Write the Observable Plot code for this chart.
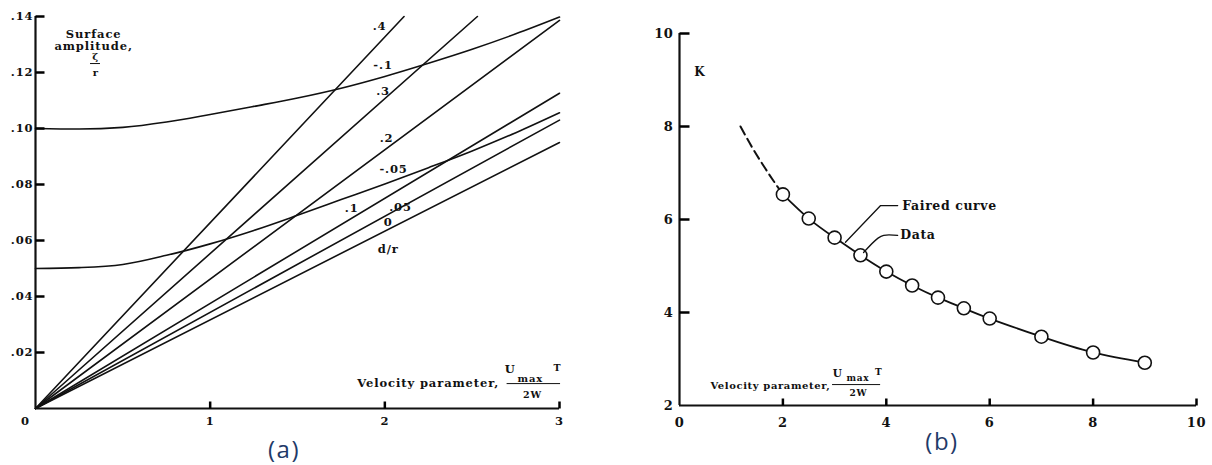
<!DOCTYPE html>
<html><head><meta charset="utf-8">
<script src="https://cdn.jsdelivr.net/npm/d3@7"></script>
<script src="https://cdn.jsdelivr.net/npm/@observablehq/plot@0.6"></script>
<style>
body{margin:0;background:#fff;}
#wrap{position:relative;width:1212px;height:465px;overflow:hidden;background:#fff;}
#a{position:absolute;left:0;top:0;}
#b{position:absolute;left:610px;top:0;}
.cap{position:absolute;font-family:"Open Sans",sans-serif;font-size:24px;color:#1f3a68;transform:translate(-50%,-50%);letter-spacing:1.5px;line-height:1.1;}
#a svg text{letter-spacing:0.9px;}
#b svg text{letter-spacing:0.6px;}
</style></head><body>
<div id="wrap"><div id="a"></div><div id="b"></div>
<div class="cap" style="left:284px;top:449px">(a)</div>
<div class="cap" style="left:942px;top:441px">(b)</div>
</div>
<script>
// ---------- Panel (a) data ----------
const drStraight = [".4", ".3", ".2", ".1", ".05", "0"];
const straightEndX = [2.11, 2.53, 3.0, 3.0, 3.0, 3.0];
const straightEndY = [0.140, 0.140, 0.1386, 0.1126, 0.103, 0.095];
const curveX = [0, 0.25, 0.5, 0.75, 1.0, 1.25, 1.5, 1.75, 2.0, 2.25, 2.5, 2.75, 3.0];
const curveNeg10 = [0.1000, 0.0998, 0.1004, 0.1023, 0.1050, 0.1079, 0.1109, 0.1144, 0.1186, 0.1233, 0.1283, 0.1338, 0.1398];
const curveNeg05 = [0.0500, 0.0503, 0.0514, 0.0547, 0.0588, 0.0636, 0.0690, 0.0746, 0.0802, 0.0860, 0.0920, 0.0985, 0.1056];
const yTicksA = [0.02, 0.04, 0.06, 0.08, 0.10, 0.12, 0.14];
const xTicksA = [1, 2, 3];
const curveLabels = [".4", "-.1", ".3", ".2", "-.05", ".1", ".05", "0", "d/r"];
const curveLabelX = [1.97, 1.99, 1.99, 2.01, 2.05, 1.81, 2.09, 2.02, 2.02];
const curveLabelY = [0.1364, 0.1225, 0.1132, 0.0964, 0.0854, 0.0714, 0.0718, 0.0664, 0.0568];

// ---------- Panel (b) data ----------
const velocityB = [2, 2.5, 3, 3.5, 4, 4.5, 5, 5.5, 6, 7, 8, 9];
const kData = [6.54, 6.02, 5.61, 5.23, 4.88, 4.58, 4.32, 4.09, 3.87, 3.48, 3.14, 2.92];
const dashX = [1.18, 1.4, 1.6, 1.8, 2.0];
const dashK = [8.0, 7.56, 7.2, 6.86, 6.54];
const yTicksB = [2, 4, 6, 8, 10];
const xTicksB = [0, 2, 4, 6, 8, 10];

const INK = "#000000";
const fmtA = d => d.toFixed(2).replace(/^0/, "");

// build rows
const straightRows = drStraight.flatMap((dr, i) => [
  {dr, x: 0, y: 0},
  {dr, x: straightEndX[i], y: straightEndY[i]}
]);
const curveRows = [
  ...curveX.map((x, i) => ({dr: "-.1", x, y: curveNeg10[i]})),
  ...curveX.map((x, i) => ({dr: "-.05", x, y: curveNeg05[i]}))
];
const labelRows = curveLabels.map((t, i) => ({t, x: curveLabelX[i], y: curveLabelY[i]}));

// tick lengths (pixels converted to data units of the other axis)
const pxA_x = 3 / 524, pxA_y = 0.14 / 392;
const pxB_x = 10 / 517, pxB_y = 8 / 372;

// inward tick marks
const tickRowsAY = yTicksA.map(t => ({x1: 0, x2: 9 * pxA_x, y1: t, y2: t}));
const tickRowsAX = xTicksA.map(t => ({x1: t, x2: t, y1: 0, y2: 7 * pxA_y}));
const tickRowsBY = yTicksB.slice(1).map(t => ({x1: 0, x2: 10 * pxB_x, y1: t, y2: t}));
const tickRowsBX = xTicksB.slice(1).map(t => ({x1: t, x2: t, y1: 2, y2: 2 + 7 * pxB_y}));
const linkOpts = {x1: "x1", x2: "x2", y1: "y1", y2: "y2", stroke: INK, strokeWidth: 2.5, strokeOpacity: 1};

const plotA = Plot.plot({
  width: 605, height: 465,
  marginLeft: 35, marginRight: 46, marginTop: 16, marginBottom: 57,
  x: {domain: [0, 3]},
  y: {domain: [0, 0.14]},
  style: {fontFamily: "DejaVu Serif", fontWeight: "bold", fontSize: "11.5px", color: "#111"},
  marks: [
    Plot.axisY(yTicksA, {tickSize: 0, tickPadding: 2, tickFormat: fmtA, label: null}),
    Plot.axisX(xTicksA, {tickSize: 0, tickPadding: 8, tickFormat: d => String(d), label: null}),
    Plot.text([0], {x: 0, y: 0, text: () => "0", dx: -10, dy: 13, fill: "#111"}),
    Plot.ruleX([0], {stroke: "#111", strokeWidth: 2.2}),
    Plot.ruleY([0], {stroke: "#111", strokeWidth: 2.2}),
    Plot.line(straightRows, {x: "x", y: "y", z: "dr", stroke: "#111", strokeWidth: 1.6}),
    Plot.line(curveRows, {x: "x", y: "y", z: "dr", curve: "monotone-x", stroke: "#111", strokeWidth: 1.6}),
    Plot.link(tickRowsAY, linkOpts),
    Plot.link(tickRowsAX, linkOpts),
    Plot.text(labelRows, {x: "x", y: "y", text: "t", fill: "#111"}),
    // y title
    Plot.text(["Surface\namplitude,"], {x: 0.333, y: 0.1316, lineHeight: 1.05, fill: "#111"}),
    Plot.text(["ζ"], {x: 0.345, y: 0.1257, fill: "#111", fontSize: 10}),
    Plot.ruleY([0.1232], {x1: 0.315, x2: 0.372, stroke: "#111", strokeWidth: 1}),
    Plot.text(["r"], {x: 0.345, y: 0.1198, fill: "#111", fontSize: 10}),
    // x title
    Plot.text(["Velocity parameter,"], {x: 2.655, y: 0.0089, textAnchor: "end", fill: "#111"}),
    Plot.text(["U"], {x: 2.718, y: 0.0139, fill: "#111"}),
    Plot.text(["max"], {x: 2.833, y: 0.0107, fill: "#111", fontSize: 10}),
    Plot.text(["T"], {x: 2.989, y: 0.0146, fill: "#111", fontSize: 9.5}),
    Plot.ruleY([0.0089], {x1: 2.70, x2: 3.006, stroke: "#111", strokeWidth: 1}),
    Plot.text(["2W"], {x: 2.845, y: 0.0050, fill: "#111", fontSize: 9.5})
  ]
});
document.getElementById("a").append(plotA);

const kRows = velocityB.map((v, i) => ({x: v, k: kData[i]}));
const dashRows = dashX.map((v, i) => ({x: v, k: dashK[i]}));

const plotB = Plot.plot({
  width: 602, height: 465,
  marginLeft: 69, marginRight: 16, marginTop: 33, marginBottom: 60,
  x: {domain: [0, 10]},
  y: {domain: [2, 10]},
  style: {fontFamily: "DejaVu Serif", fontWeight: "bold", fontSize: "13px", color: "#111"},
  marks: [
    Plot.axisY(yTicksB, {tickSize: 0, tickPadding: 6, label: null}),
    Plot.axisX(xTicksB, {tickSize: 0, tickPadding: 12, label: null}),
    Plot.ruleX([0], {stroke: "#111", strokeWidth: 2.2}),
    Plot.ruleY([2], {stroke: "#111", strokeWidth: 2.2}),
    Plot.link(tickRowsBY, linkOpts),
    Plot.link(tickRowsBX, linkOpts),
    Plot.line(dashRows, {x: "x", y: "k", curve: "natural", stroke: "#111", strokeWidth: 2, strokeDasharray: "9,5"}),
    Plot.line(kRows, {x: "x", y: "k", curve: "natural", stroke: "#111", strokeWidth: 1.8}),
    Plot.dot(kRows, {x: "x", y: "k", r: 6.5, fill: "white", stroke: "#111", strokeWidth: 1.6}),
    Plot.text(["K"], {x: 0.39, y: 9.16, fill: "#111", fontSize: 12}),
    // leaders
    Plot.line([{x: 3.21, k: 5.51}, {x: 3.89, k: 6.30}, {x: 4.22, k: 6.30}], {x: "x", y: "k", stroke: "#111", strokeWidth: 1.3}),
    Plot.line([{x: 3.56, k: 5.29}, {x: 3.84, k: 5.60}, {x: 3.95, k: 5.66}, {x: 4.22, k: 5.66}], {x: "x", y: "k", curve: "catmull-rom", stroke: "#111", strokeWidth: 1.3}),
    Plot.text(["Faired curve"], {x: 4.31, y: 6.30, textAnchor: "start", fill: "#111", fontSize: 12.5}),
    Plot.text(["Data"], {x: 4.27, y: 5.66, textAnchor: "start", fill: "#111", fontSize: 12.5}),
    // x title
    Plot.text(["Velocity parameter,"], {x: 2.92, y: 2.43, textAnchor: "end", fill: "#111", fontSize: 10}),
    Plot.text(["U"], {x: 3.06, y: 2.69, fill: "#111", fontSize: 10.5}),
    Plot.text(["max"], {x: 3.45, y: 2.58, fill: "#111", fontSize: 9}),
    Plot.text(["T"], {x: 3.85, y: 2.72, fill: "#111", fontSize: 9}),
    Plot.ruleY([2.45], {x1: 2.96, x2: 3.89, stroke: "#111", strokeWidth: 1}),
    Plot.text(["2W"], {x: 3.46, y: 2.26, fill: "#111", fontSize: 9})
  ]
});
document.getElementById("b").append(plotB);
</script>
</body></html>
